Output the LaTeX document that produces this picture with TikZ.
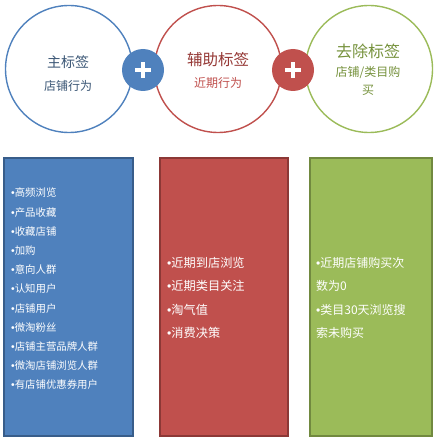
\documentclass[tikz,border=0pt]{standalone}
\usepackage{fontspec}
\setmainfont{Noto Sans CJK SC}
\newfontfamily\latfont{Liberation Sans}
\newcommand{\bul}{{\latfont •}}
\definecolor{cblue}{HTML}{4F81BD}
\definecolor{cbluedk}{HTML}{385D8A}
\definecolor{cred}{HTML}{C0504D}
\definecolor{creddk}{HTML}{8C3836}
\definecolor{cgreen}{HTML}{9BBB59}
\definecolor{cgreendk}{HTML}{71893F}
\definecolor{tblue}{HTML}{3A5675}
\definecolor{tred}{HTML}{953734}
\definecolor{tgreen}{HTML}{76923C}
\begin{document}
\begin{tikzpicture}[x=1pt,y=1pt,
  ring/.style={circle,draw=#1,line width=1.4pt,fill=white,minimum size=127pt,inner sep=0pt},
  plusdisk/.style={circle,fill=#1,minimum size=42pt,inner sep=0pt},
  plussign/.style={white,line width=4pt},
  colbox/.style={rectangle,draw=#1,line width=1.5pt,anchor=north west,inner sep=0pt},
  item/.style={anchor=west,align=left,text=white,inner sep=0pt}
]
\useasboundingbox (0,0) rectangle (437,-441);
% circles
\node[ring=cblue] (c1) at (69,-69) {};
\node[ring=cred] (c2) at (218,-69) {};
\node[ring=cgreen] (c3) at (369,-69) {};
\node[plusdisk=cblue] (p1) at (143,-70) {};
\node[plusdisk=cred] (p2) at (293,-70) {};
\foreach \p in {p1,p2}{
  \draw[plussign] ([xshift=-8pt]\p.center) -- ([xshift=8pt]\p.center);
  \draw[plussign] ([yshift=-8pt]\p.center) -- ([yshift=8pt]\p.center);
}
% circle texts
\node[text=tblue,font=\fontsize{14}{16}\selectfont] (t1a) at (68,-62) {主标签};
\node[text=tblue,font=\fontsize{12}{14}\selectfont] (t1b) at (68,-86) {店铺行为};
\node[text=tred,font=\fontsize{15.5}{18}\selectfont] (t2a) at (218,-60) {辅助标签};
\node[text=cred,font=\fontsize{12}{14}\selectfont] (t2b) at (218,-83) {近期行为};
\node[text=tgreen,font=\fontsize{16}{18}\selectfont] (t3a) at (368,-51) {去除标签};
\node[text=tgreen,font=\fontsize{12}{18}\selectfont,align=center] (t3b) at (368,-81) {店铺/类目购\\买};
% boxes
\node[colbox=cbluedk,fill=cblue,minimum width=129pt,minimum height=278pt] (b1) at (3,-157) {};
\node[colbox=creddk,fill=cred,minimum width=128pt,minimum height=278pt] (b2) at (159,-157) {};
\node[colbox=cgreendk,fill=cgreen,minimum width=122pt,minimum height=278pt] (b3) at (309,-157) {};
% box texts
\node[item,font=\fontsize{10.4}{19.2}\selectfont] (l1) at (11,-289) {\bul 高频浏览\\\bul 产品收藏\\\bul 收藏店铺\\\bul 加购\\\bul 意向人群\\\bul 认知用户\\\bul 店铺用户\\\bul 微淘粉丝\\\bul 店铺主营品牌人群\\\bul 微淘店铺浏览人群\\\bul 有店铺优惠券用户};
\node[item,font=\fontsize{12.2}{23.3}\selectfont] (l2) at (167,-298) {\bul 近期到店浏览\\\bul 近期类目关注\\\bul 淘气值\\\bul 消费决策};
\node[item,font=\fontsize{12}{23.3}\selectfont] (l3) at (316,-298) {\bul 近期店铺购买次\\数为0\\\bul 类目30天浏览搜\\索未购买};
\end{tikzpicture}
\end{document}
